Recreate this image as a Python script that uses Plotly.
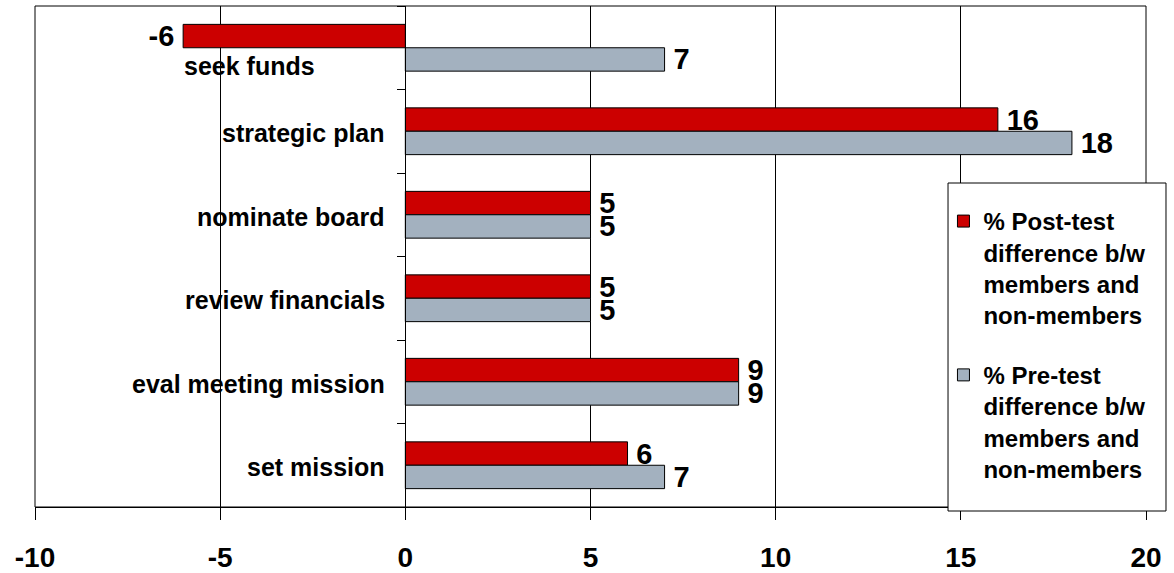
import plotly.graph_objects as go

categories = ["seek funds", "strategic plan", "nominate board",
              "review financials", "eval meeting mission", "set mission"]
post_test = [-6, 16, 5, 5, 9, 6]
pre_test = [7, 18, 5, 5, 9, 7]
post_name = "% Post-test<br>difference b/w<br>members and<br>non-members"
pre_name = "% Pre-test<br>difference b/w<br>members and<br>non-members"
x_ticks = [-10, -5, 0, 5, 10, 15, 20]

FONT = "Liberation Sans, Arial, sans-serif"
RED = "#CC0000"
GREY = "#A3B1BF"


def labels(vals):
    # small spacer between bar end and value label
    return [f"\u2009{v}" if v >= 0 else f"{v}\u2009" for v in vals]


fig = go.Figure()
fig.add_trace(go.Bar(
    y=categories, x=post_test, orientation="h", name=post_name,
    marker=dict(color=RED, line=dict(color="black", width=1)),
    text=labels(post_test), textposition="outside",
    textfont=dict(family=FONT, size=29, color="black", weight="bold"),
    constraintext="none", cliponaxis=False, legendgroup="a",
))
fig.add_trace(go.Bar(
    y=categories, x=pre_test, orientation="h", name=pre_name,
    marker=dict(color=GREY, line=dict(color="black", width=1)),
    text=labels(pre_test), textposition="outside",
    textfont=dict(family=FONT, size=29, color="black", weight="bold"),
    constraintext="none", cliponaxis=False, legendgroup="b",
))

# category labels next to the y axis (which crosses at x=0)
for i, c in enumerate(categories):
    if i == 0:
        xs, ys = -88, -18
    else:
        xs, ys = -18, -2
    fig.add_annotation(x=0, y=c, xref="x", yref="y", text=c, showarrow=False,
                       xanchor="right", yanchor="middle", xshift=xs, yshift=ys,
                       font=dict(family=FONT, size=25, color="black", weight="bold"))

# plot-area frame
fig.add_shape(type="rect", xref="paper", yref="paper", x0=0, x1=1, y0=0, y1=1,
              line=dict(color="black", width=1), layer="above")
# legend box
fig.add_shape(type="rect", xref="paper", yref="paper",
              x0=0.8218, x1=1.018, y0=-0.008, y1=0.6467,
              line=dict(color="black", width=1), fillcolor="white", layer="above")

fig.update_layout(
    width=1174, height=573,
    margin=dict(l=35, r=28, t=6, b=66),
    paper_bgcolor="white", plot_bgcolor="white",
    barmode="group", bargap=0.44, bargroupgap=0,
    showlegend=True,
    legend=dict(
        x=0.8177, y=0.6148, xanchor="left", yanchor="top",
        bgcolor="rgba(0,0,0,0)", borderwidth=0,
        font=dict(family=FONT, size=24, color="black", weight="bold"),
        tracegroupgap=26, traceorder="grouped", valign="top",
    ),
    xaxis=dict(
        range=[-10, 20], tickvals=x_ticks, ticktext=[str(v) for v in x_ticks],
        showgrid=True, gridcolor="black", gridwidth=1, zeroline=False,
        showline=True, linecolor="black", linewidth=1,
        ticks="outside", ticklen=12, tickcolor="black",
        tickfont=dict(family=FONT, size=28, color="black", weight="bold"),
        ticklabelstandoff=13, automargin=False,
    ),
    yaxis=dict(
        type="category", autorange="reversed", anchor="free", position=1/3,
        showline=True, linecolor="black", linewidth=1,
        ticks="outside", tickson="boundaries", ticklen=8, tickcolor="black",
        showticklabels=False, showgrid=False, zeroline=False, automargin=False,
    ),
)

fig.write_html("out.html", config={"displayModeBar": False},
               post_script="document.body.style.margin='0';document.body.style.padding='0';")
